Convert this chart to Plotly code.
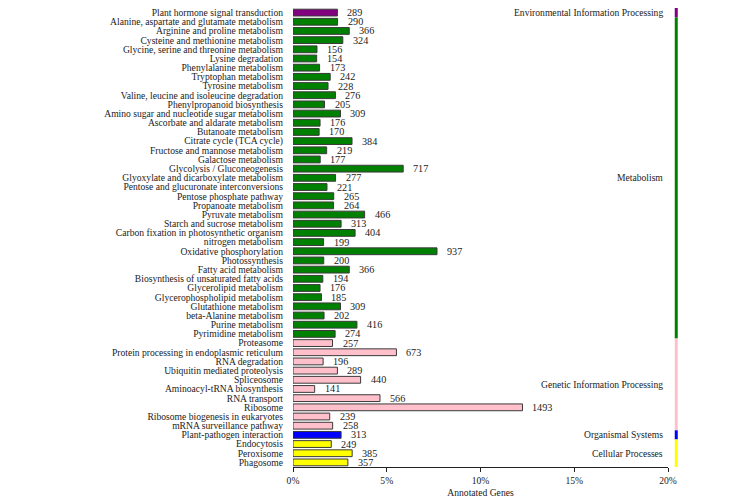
import plotly.graph_objects as go

categories = [
    "Plant hormone signal transduction",
    "Alanine, aspartate and glutamate metabolism",
    "Arginine and proline metabolism",
    "Cysteine and methionine metabolism",
    "Glycine, serine and threonine metabolism",
    "Lysine degradation",
    "Phenylalanine metabolism",
    "Tryptophan metabolism",
    "Tyrosine metabolism",
    "Valine, leucine and isoleucine degradation",
    "Phenylpropanoid biosynthesis",
    "Amino sugar and nucleotide sugar metabolism",
    "Ascorbate and aldarate metabolism",
    "Butanoate metabolism",
    "Citrate cycle (TCA cycle)",
    "Fructose and mannose metabolism",
    "Galactose metabolism",
    "Glycolysis / Gluconeogenesis",
    "Glyoxylate and dicarboxylate metabolism",
    "Pentose and glucuronate interconversions",
    "Pentose phosphate pathway",
    "Propanoate metabolism",
    "Pyruvate metabolism",
    "Starch and sucrose metabolism",
    "Carbon fixation in photosynthetic organism",
    "nitrogen metabolism",
    "Oxidative phosphorylation",
    "Photossynthesis",
    "Fatty acid metabolism",
    "Biosynthesis of unsaturated fatty acids",
    "Glycerolipid metabolism",
    "Glycerophospholipid metabolism",
    "Glutathione metabolism",
    "beta-Alanine metabolism",
    "Purine metabolism",
    "Pyrimidine metabolism",
    "Proteasome",
    "Protein processing in endoplasmic reticulum",
    "RNA degradation",
    "Ubiquitin mediated proteolysis",
    "Spliceosome",
    "Aminoacyl-tRNA biosynthesis",
    "RNA transport",
    "Ribosome",
    "Ribosome biogenesis in eukaryotes",
    "mRNA surveillance pathway",
    "Plant-pathogen interaction",
    "Endocytosis",
    "Peroxisome",
    "Phagosome",
]

gene_counts = [
    289, 290, 366, 324, 156, 154, 173, 242, 228, 276, 205, 309, 176, 170, 384,
    219, 177, 717, 277, 221, 265, 264, 466, 313, 404, 199, 937, 200, 366, 194,
    176, 185, 309, 202, 416, 274, 257, 673, 196, 289, 440, 141, 566, 1493, 239,
    258, 313, 249, 385, 357,
]

total_annotated = 12200

group_names = [
    "Environmental Information Processing",
    "Metabolism",
    "Genetic Information Processing",
    "Organismal Systems",
    "Cellular Processes",
]
group_sizes = [1, 35, 10, 1, 3]
group_colors = ["#800080", "#008000", "#FFC0CB", "#0000FF", "#FFFF00"]

x_ticks = [0, 5, 10, 15, 20]
x_tick_labels = ["0%", "5%", "10%", "15%", "20%"]

# derived
percents = [c / total_annotated * 100 for c in gene_counts]
bar_colors = []
for g, n in zip(group_colors, group_sizes):
    bar_colors += [g] * n
ypos = list(range(len(categories)))

FONT = "Liberation Serif, Times New Roman, serif"
FS = 9.6

fig = go.Figure()
fig.add_trace(go.Bar(
    x=percents, y=ypos, orientation="h",
    marker=dict(color=bar_colors, line=dict(color="#3a3a3a", width=1)),
    width=0.74, hoverinfo="skip", showlegend=False,
))

annotations = []
for p, c, y in zip(percents, gene_counts, ypos):
    annotations.append(dict(
        x=p, y=y, xref="x", yref="y", text=str(c), showarrow=False,
        xanchor="left", yanchor="middle", xshift=8,
        font=dict(family=FONT, size=FS + 0.6, color="#222"),
    ))

shapes = []
start = 0
for name, n, col in zip(group_names, group_sizes, group_colors):
    y0 = start - 0.5
    y1 = start + n - 0.5
    shapes.append(dict(
        type="line", xref="paper", yref="y", x0=1.022, x1=1.022, y0=y0, y1=y1,
        line=dict(color=col, width=3),
    ))
    annotations.append(dict(
        x=0.992, y=(y0 + y1) / 2, xref="paper", yref="y", text=name,
        showarrow=False, xanchor="right", yanchor="middle",
        font=dict(family=FONT, size=FS, color="#222"),
    ))
    start += n

fig.update_layout(
    width=724, height=495,
    margin=dict(l=285, r=64, t=0, b=36),
    plot_bgcolor="white", paper_bgcolor="white",
    font=dict(family=FONT, size=FS, color="#222"),
    annotations=annotations,
    shapes=shapes,
    xaxis=dict(
        range=[0, 20], tickvals=x_ticks, ticktext=x_tick_labels,
        showgrid=False, zeroline=False, showline=True, linecolor="#222",
        linewidth=1, ticks="outside", ticklen=4, tickcolor="#222",
        automargin=False, ticklabeloverflow="allow",
        title=dict(text="Annotated Genes", font=dict(family=FONT, size=FS), standoff=4),
        tickfont=dict(family=FONT, size=FS),
    ),
    yaxis=dict(
        range=[len(categories) - 0.5, -0.5],
        tickvals=ypos, ticktext=categories,
        showgrid=False, zeroline=False, showline=False, ticks="",
        automargin=False, ticklabeloverflow="allow",
        ticklabelstandoff=9,
        tickfont=dict(family=FONT, size=FS),
    ),
)

fig.write_html("out.html")
